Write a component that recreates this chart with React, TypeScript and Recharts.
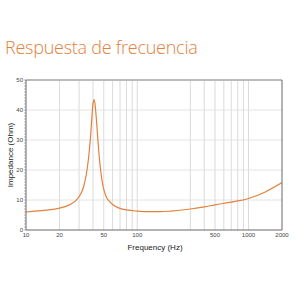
import { LineChart, Line, XAxis, YAxis, ReferenceLine } from "recharts";

// impedance curve (Hz, Ohm)
const freqs = [10, 15, 20, 25, 28, 31, 33, 35, 36.5, 38, 39, 40, 41, 42, 43.5, 45, 47, 49, 52, 56, 60, 70, 80, 100, 130, 160, 200, 300, 400, 500, 700, 1000, 1400, 2000];
const impedance = [6.0, 6.6, 7.3, 8.5, 9.8, 12, 14.5, 19, 24, 31, 37, 42, 43.5, 41, 34, 26.5, 19.5, 15, 11.5, 9.6, 8.5, 7.2, 6.7, 6.3, 6.1, 6.1, 6.3, 7.0, 7.7, 8.4, 9.3, 10.5, 12.6, 15.8];

const xTicks = [10, 20, 50, 100, 500, 1000, 2000];
const xGrid = [20, 30, 40, 50, 60, 70, 80, 90, 100, 300, 400, 500, 600, 700, 800, 900, 1000];
const yGrid = [10, 20, 30, 40];
const yMinor = Array.from({ length: 51 }, (_, i) => i);

const data = freqs.map((f, i) => ({ f, z: impedance[i] }));

const ORANGE = "#e2813c";
const AXIS = "#666";

function YTick(props: any) {
  const { x, y, payload, side } = props;
  const major = payload.value % 10 === 0;
  const left = side !== "right";
  return (
    <g>
      <line x1={x} x2={left ? x - 2 : x + 2} y1={y} y2={y} stroke="#888" strokeWidth={0.6} />
      {major && (
        <text
          x={left ? x - 3 : x + 3}
          y={y}
          dy={2}
          textAnchor={left ? "end" : "start"}
          fontSize={6}
          fill="#444"
          fontFamily="Liberation Sans, Arial, sans-serif"
        >
          {payload.value}
        </text>
      )}
    </g>
  );
}

export default function App() {
  return (
    <div style={{ position: "absolute", left: 0, top: 0, width: 300, height: 300, background: "#fff" }}>
      <div
        style={{
          position: "absolute",
          left: 5,
          top: 35,
          fontFamily: "'Open Sans', sans-serif",
          fontWeight: 300,
          fontSize: 18,
          color: ORANGE,
          letterSpacing: -0.25,
          whiteSpace: "nowrap",
        }}
      >
        Respuesta de frecuencia
      </div>
      <LineChart width={300} height={300} data={data} margin={{ top: 80, right: 17, bottom: 69, left: 25 }}>
        {xGrid.map((f) => (
          <ReferenceLine key={"x" + f} x={f} stroke="#ccc" strokeWidth={0.7} />
        ))}
        {yGrid.map((v) => (
          <ReferenceLine key={"y" + v} y={v} stroke="#ddd" strokeWidth={0.8} />
        ))}
        <ReferenceLine y={50} stroke="#bbb" strokeWidth={2} />
        <XAxis
          dataKey="f"
          type="number"
          scale="log"
          domain={[10, 2000]}
          ticks={xTicks}
          allowDataOverflow
          height={1}
          stroke={AXIS}
          tickLine={false}
          tickSize={0}
          tick={{ fontSize: 6, fill: "#444", fontFamily: "Liberation Sans, Arial, sans-serif" }}
          tickMargin={3}
          interval={0}
        />
        <YAxis
          type="number"
          domain={[0, 50]}
          ticks={yMinor}
          width={1}
          stroke={AXIS}
          tickLine={false}
          tickSize={0}
          tickMargin={0}
          tick={<YTick side="left" />}
          interval={0}
        />
        <YAxis
          yAxisId="r"
          orientation="right"
          type="number"
          domain={[0, 50]}
          ticks={yMinor}
          width={1}
          stroke={AXIS}
          tickLine={false}
          tickSize={0}
          tickMargin={0}
          tick={<YTick side="right" />}
          interval={0}
        />
        <Line
          type="monotone"
          dataKey="z"
          stroke={ORANGE}
          strokeWidth={1.2}
          dot={false}
          isAnimationActive={false}
        />
      </LineChart>
      <div
        style={{
          position: "absolute",
          left: 0,
          width: 310,
          top: 243,
          textAlign: "center",
          fontFamily: "Liberation Sans, Arial, sans-serif",
          fontSize: 8,
          color: "#222",
        }}
      >
        Frequency (Hz)
      </div>
      <div
        style={{
          position: "absolute",
          left: 10,
          top: 155,
          transform: "translate(-50%, -50%) rotate(-90deg)",
          fontFamily: "Liberation Sans, Arial, sans-serif",
          fontSize: 8,
          color: "#222",
          whiteSpace: "nowrap",
        }}
      >
        Impedance (Ohm)
      </div>
    </div>
  );
}
